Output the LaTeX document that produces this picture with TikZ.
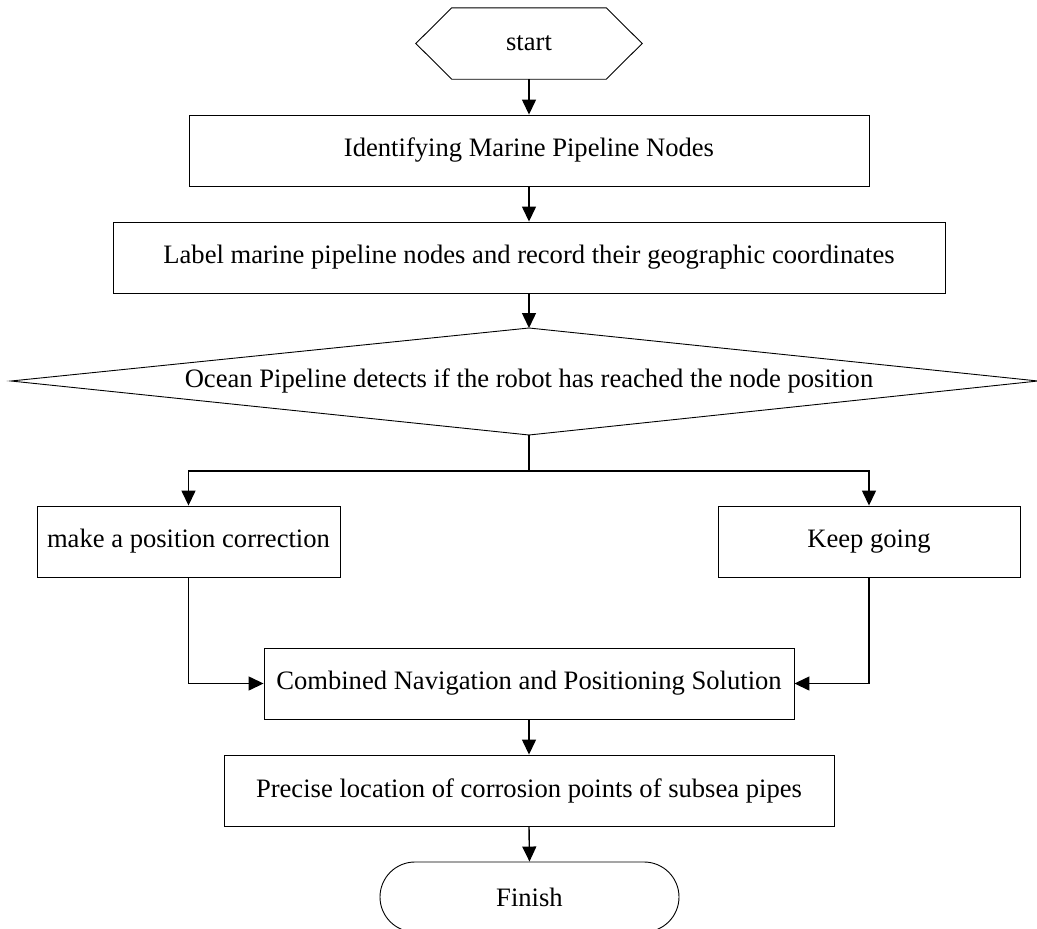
\documentclass[tikz,border=0pt]{standalone}
\usepackage{fontspec}
\setmainfont{Liberation Serif}
\usetikzlibrary{arrows.meta}
\begin{document}
\begin{tikzpicture}[x=1pt,y=-1pt,
  txt/.style={font=\fontsize{26.6}{30}\selectfont, inner sep=0pt},
  box/.style={txt, draw, line width=0.9pt, minimum height=71pt},
  shapeline/.style={draw, line width=0.9pt},
  arr/.style={line width=1.4pt, -{Triangle[length=15pt,width=14pt]}},
  conn/.style={line width=1.4pt}]
\useasboundingbox (0,0) rectangle (1037,929);
% start
\node[txt, minimum width=226pt, minimum height=71pt] (start) at (529,43.5) {start};
\draw[shapeline] (start.west) -- ([xshift=36pt]start.north west) -- ([xshift=-36pt]start.north east) -- (start.east) -- ([xshift=-36pt]start.south east) -- ([xshift=36pt]start.south west) -- cycle;
\node[box, minimum width=680pt] (b1) at (529,150.5) {Identifying Marine Pipeline Nodes};
\node[box, minimum width=832pt] (b2) at (529,257.5) {Label marine pipeline nodes and record their geographic coordinates};
% decision
\coordinate (dtop) at (529,328);
\coordinate (dright) at (1038,381);
\coordinate (dbot) at (529,435);
\coordinate (dleft) at (11,381);
\draw[shapeline] (dtop) -- (dright) -- (dbot) -- (dleft) -- cycle;
\node[txt] (dec) at (529,381) {Ocean Pipeline detects if the robot has reached the node position};
\coordinate (split) at (529,471);
\node[box, minimum width=303pt] (left) at (188.5,541.5) {make a position correction};
\node[box, minimum width=302pt] (right) at (869,541.5) {Keep going};
\node[box, minimum width=530pt] (comb) at (529,683.5) {Combined Navigation and Positioning Solution};
\node[box, minimum width=610pt] (prec) at (529,790.5) {Precise location of corrosion points of subsea pipes};
\node[box, minimum width=299pt, minimum height=70pt, rounded corners=35pt] (fin) at (529.5,897) {Finish};
% connectors
\draw[arr] (start.south) -- (b1.north);
\draw[arr] (b1.south) -- (b2.north);
\draw[arr] (b2.south) -- (dtop);
\draw[conn] (dbot) -- (split);
\draw[arr] (split) -| (left.north);
\draw[arr] (split) -| (right.north);
\draw[arr] (left.south) |- (comb.west);
\draw[arr] (right.south) |- (comb.east);
\draw[arr] (comb.south) -- (prec.north);
\draw[arr] (prec.south) -- (fin.north);
\end{tikzpicture}
\end{document}
